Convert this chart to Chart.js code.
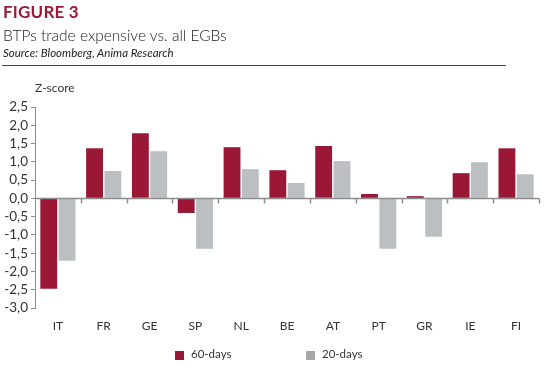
<!DOCTYPE html>
<html>
<head>
<meta charset="utf-8">
<script src="https://cdn.jsdelivr.net/npm/chart.js@4"></script>
<style>
  html, body { margin: 0; padding: 0; background: #fff; }
  #wrap { position: relative; width: 558px; height: 383px; overflow: hidden; font-family: Lato, "Open Sans", sans-serif; }
  #c { position: absolute; left: 0; top: 0; }
  .t { position: absolute; white-space: nowrap; }
  #fig { left: 3px; top: 1px; font-size: 17px; font-weight: 700; color: #9B1B37; letter-spacing: 0.2px; }
  #ttl { left: 3px; top: 26px; font-size: 15.5px; font-weight: 300; color: #222; }
  #src { left: 3px; top: 46px; font-size: 11.5px; font-style: italic; color: #222; }
  #rule { position: absolute; left: 2px; top: 65px; width: 504px; height: 0; border-top: 1px solid #A3143C; }
  #zs { left: 35px; top: 80px; font-size: 12px; color: #333; }
  .leg { position: absolute; top: 351px; width: 9px; height: 9px; }
  .legt { top: 347px; font-size: 11.5px; color: #333; }
</style>
</head>
<body>
<div id="wrap">
  <canvas id="c" width="558" height="383"></canvas>
  <div class="t" id="fig">FIGURE 3</div>
  <div class="t" id="ttl">BTPs trade expensive vs. all EGBs</div>
  <div class="t" id="src">Source: Bloomberg, Anima Research</div>
  <div id="rule"></div>
  <div class="t" id="zs">Z-score</div>
  <div id="legend"></div>
</div>
<script>
const categories = ["IT","FR","GE","SP","NL","BE","AT","PT","GR","IE","FI"];
const seriesNames = ["60-days","20-days"];
const values60 = [-2.47, 1.37, 1.78, -0.40, 1.40, 0.77, 1.43, 0.12, 0.06, 0.69, 1.37];
const values20 = [-1.71, 0.75, 1.29, -1.38, 0.80, 0.42, 1.02, -1.38, -1.05, 0.99, 0.66];
const yTicks = [2.5, 2.0, 1.5, 1.0, 0.5, 0.0, -0.5, -1.0, -1.5, -2.0, -2.5, -3.0];

const barColors = ["#9A1735", "#BCBFC2"];
const legendColors = ["#9A1735", "#A6A6A6"];

// HTML legend
const legendPos = [[175, 191], [306, 322]];
const legEl = document.getElementById('legend');
seriesNames.forEach((n, i) => {
  const b = document.createElement('div');
  b.className = 'leg';
  b.style.left = legendPos[i][0] + 'px';
  b.style.background = legendColors[i];
  legEl.appendChild(b);
  const t = document.createElement('div');
  t.className = 't legt';
  t.style.left = legendPos[i][1] + 'px';
  t.textContent = n;
  legEl.appendChild(t);
});

const zeroLine = {
  id: 'zeroLine',
  afterDatasetsDraw(chart) {
    const { ctx, chartArea, scales } = chart;
    const y0 = Math.round(scales.y.getPixelForValue(0)) + 0.5;
    ctx.save();
    ctx.strokeStyle = '#8C8C8C';
    ctx.lineWidth = 1.5;
    ctx.beginPath();
    ctx.moveTo(chartArea.left, y0);
    ctx.lineTo(chartArea.right, y0);
    for (let i = 1; i <= categories.length; i++) {
      const x = Math.round(scales.x.getPixelForValue(i - 0.5)) + 0.5;
      ctx.moveTo(x, y0);
      ctx.lineTo(x, y0 + 5);
    }
    ctx.stroke();
    ctx.restore();
  }
};

new Chart(document.getElementById('c'), {
  type: 'bar',
  data: {
    labels: categories,
    datasets: [
      { label: seriesNames[0], data: values60, backgroundColor: barColors[0], categoryPercentage: 0.8, barPercentage: 0.92 },
      { label: seriesNames[1], data: values20, backgroundColor: barColors[1], categoryPercentage: 0.8, barPercentage: 0.92 }
    ]
  },
  options: {
    responsive: false,
    animation: false,
    layout: { padding: { left: 0, right: 19, top: 107, bottom: 45 } },
    plugins: { legend: { display: false }, tooltip: { enabled: false }, title: { display: false } },
    scales: {
      x: {
        offset: true,
        grid: { display: false, drawTicks: false },
        border: { display: false },
        ticks: { color: '#333', font: { family: 'Lato', size: 12 }, padding: 11, maxRotation: 0, autoSkip: false },
        afterFit: s => { s.height = 30; }
      },
      y: {
        min: -3, max: 2.5,
        afterBuildTicks: s => { s.ticks = yTicks.map(v => ({ value: v })); },
        grid: { drawOnChartArea: false, drawTicks: true, tickLength: 4, color: '#8C8C8C' },
        border: { display: true, color: '#8C8C8C', width: 1 },
        ticks: {
          color: '#333', padding: 3, autoSkip: false,
          font: { family: 'Lato', size: 13.5 },
          callback: v => v.toFixed(1).replace('.', ',')
        },
        afterFit: s => { s.width = 35; }
      }
    }
  },
  plugins: [zeroLine]
});
</script>
</body>
</html>
